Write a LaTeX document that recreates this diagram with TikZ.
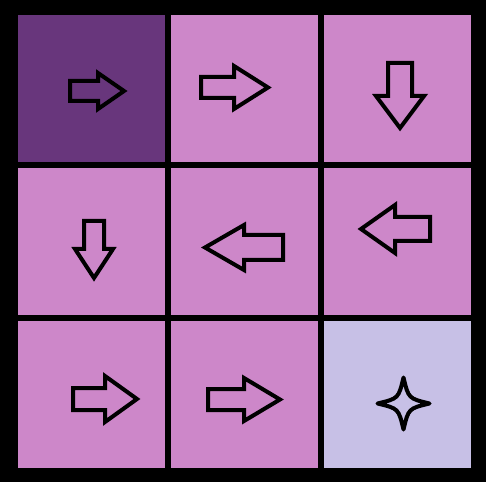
\documentclass[tikz,border=0pt]{standalone}
\usepackage{tikz}
\definecolor{gdark}{RGB}{104,54,124}
\definecolor{gpink}{RGB}{205,135,201}
\definecolor{glav}{RGB}{199,192,230}

\begin{document}
\begin{tikzpicture}[
      x=0.02cm, y=-0.02cm,
      cell/.style={fill=#1, draw=none, inner sep=0pt, minimum size=2.94cm},
      blockarr/.style={draw=black, line width=0.08cm, line join=miter},
      sparkle/.style={draw=black, line width=0.08cm, line join=round},
  ]
    % background and grid cells
    \fill[black] (0,0) rectangle (486,482);
    \foreach \c/\r/\col in {0/0/gdark, 1/0/gpink, 2/0/gpink,
                            0/1/gpink, 1/1/gpink, 2/1/gpink,
                            0/2/gpink, 1/2/gpink, 2/2/glav}
      \node[cell=\col] (cell-\r-\c) at ({91.5+153*\c},{88.5+153*\r}) {};

    % row 1
    \draw[blockarr] (70,81) -- (98,81) -- (98,73) -- (124,91) -- (98,109) -- (98,101) -- (70,101) -- cycle;
    \draw[blockarr] (201,77) -- (234,77) -- (234,66) -- (268,87.5) -- (234,109) -- (234,98) -- (201,98) -- cycle;
    \draw[blockarr] (388,63) -- (412,63) -- (412,96) -- (424,96) -- (400,128) -- (376,96) -- (388,96) -- cycle;

    % row 2
    \draw[blockarr] (84,221) -- (104,221) -- (104,249) -- (113,249) -- (94,278) -- (75,249) -- (84,249) -- cycle;
    \draw[blockarr] (283,235) -- (244,235) -- (244,225) -- (205,247.5) -- (244,270) -- (244,260) -- (283,260) -- cycle;
    \draw[blockarr] (430,217) -- (395,217) -- (395,205) -- (361,229) -- (395,253) -- (395,241) -- (430,241) -- cycle;

    % row 3
    \draw[blockarr] (73,388) -- (105,388) -- (105,376) -- (137,399) -- (105,422) -- (105,410) -- (73,410) -- cycle;
    \draw[blockarr] (208,389) -- (244,389) -- (244,378) -- (280,399.5) -- (244,421) -- (244,410) -- (208,410) -- cycle;
    \draw[sparkle] (403.5,377.5) .. controls (408.5,398.5) .. (429.5,403.5)
                   .. controls (408.5,408.5) .. (403.5,429.5)
                   .. controls (398.5,408.5) .. (377.5,403.5)
                   .. controls (398.5,398.5) .. cycle;
  \end{tikzpicture}
\end{document}
